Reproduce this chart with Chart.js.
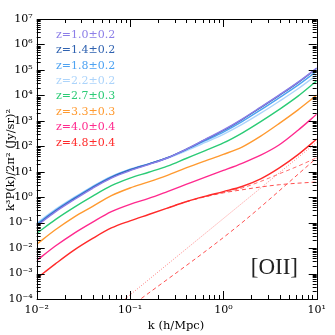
<!DOCTYPE html>
<html>
<head>
<meta charset="utf-8">
<script src="https://cdn.jsdelivr.net/npm/chart.js@4.4.1/dist/chart.umd.min.js"></script>
<style>
html,body{margin:0;padding:0;background:#fff;}
#wrap{width:335px;height:335px;}
</style>
</head>
<body>
<div id="wrap"><canvas id="c" width="335" height="335"></canvas></div>
<script>
// sampling wavenumbers k (h/Mpc)
const kGrid = [0.01, 0.01585, 0.02512, 0.03981, 0.0631, 0.1, 0.1585, 0.2512, 0.3981, 0.631, 1, 1.585, 2.512, 3.981, 6.31, 10];

// log10 of k^3 P(k) / 2pi^2  [(Jy/sr)^2]
const logP_z10 = [-1.13, -0.58, -0.10, 0.35, 0.75, 1.04, 1.28, 1.54, 1.88, 2.26, 2.64, 3.07, 3.54, 4.02, 4.52, 5.07];
const logP_z14 = [-1.10, -0.55, -0.07, 0.38, 0.78, 1.07, 1.30, 1.55, 1.88, 2.25, 2.62, 3.05, 3.52, 4.00, 4.50, 5.06];
const logP_z18 = [-1.06, -0.52, -0.04, 0.41, 0.80, 1.09, 1.31, 1.55, 1.86, 2.21, 2.56, 2.97, 3.43, 3.91, 4.40, 4.95];
const logP_z22 = [-1.02, -0.48, -0.01, 0.43, 0.82, 1.10, 1.31, 1.53, 1.82, 2.14, 2.47, 2.86, 3.30, 3.77, 4.26, 4.80];
const logP_z27 = [-1.42, -0.88, -0.40, 0.04, 0.45, 0.75, 0.98, 1.22, 1.52, 1.82, 2.13, 2.52, 2.97, 3.45, 3.97, 4.57];
const logP_z33 = [-1.85, -1.28, -0.78, -0.36, 0.06, 0.36, 0.60, 0.86, 1.15, 1.42, 1.68, 1.97, 2.40, 2.90, 3.43, 4.01];
const logP_z40 = [-2.49, -1.92, -1.42, -0.98, -0.57, -0.28, -0.05, 0.22, 0.50, 0.78, 1.05, 1.33, 1.65, 2.06, 2.63, 3.26];
const logP_z48 = [-3.19, -2.62, -2.08, -1.62, -1.21, -0.93, -0.68, -0.43, -0.18, 0.03, 0.22, 0.42, 0.72, 1.15, 1.67, 2.28];

// z = 4.8 components
const shotK = [0.08, 10];
const shotLog = [-4.13, 2.16];
const oneHaloK = [0.1, 1.39, 10];
const oneHaloLog = [-4.31, -1.17, 1.54];
const twoHaloK = [0.2512, 0.3981, 0.631, 1, 1.585, 2.512, 3.981, 6.31, 10];
const twoHaloLog = [-0.43, -0.18, 0.01, 0.17, 0.29, 0.40, 0.49, 0.55, 0.595];
const noShotK = [0.3981, 0.631, 1, 1.585, 2.512, 3.981, 6.31, 10];
const noShotLog = [-0.18, 0.02, 0.19, 0.36, 0.62, 0.92, 1.22, 1.55];

const labels = ['z=1.0\u00b10.2','z=1.4\u00b10.2','z=1.8\u00b10.2','z=2.2\u00b10.2','z=2.7\u00b10.3','z=3.3\u00b10.3','z=4.0\u00b10.4','z=4.8\u00b10.4'];
const colors = ['#8c7ee8','#2f62b0','#4ea3f2','#acd4fb','#2bcb76','#ff9a30','#ff2a8e','#ff2a2a'];
const series = [logP_z10, logP_z14, logP_z18, logP_z22, logP_z27, logP_z33, logP_z40, logP_z48];

const xTicks = [0.01, 0.1, 1, 10];
const yTicks = [1e-4,1e-3,1e-2,1e-1,1,1e1,1e2,1e3,1e4,1e5,1e6,1e7];

const sup = {'-':'\u207b','0':'\u2070','1':'\u00b9','2':'\u00b2','3':'\u00b3','4':'\u2074','5':'\u2075','6':'\u2076','7':'\u2077','8':'\u2078','9':'\u2079'};
function fmtPow(v){ const e = Math.round(Math.log10(v)); return '10' + String(e).split('').map(c=>sup[c]).join(''); }

function pts(ks, logs){ return ks.map((k,i)=>({x:k, y:Math.pow(10, logs[i])})); }

const datasets = [];
series.forEach((s,i)=>{
  datasets.push({label:labels[i], data:pts(kGrid,s), borderColor:colors[i], borderWidth:1.4, pointRadius:0, cubicInterpolationMode:'monotone', fill:false});
});
datasets.push({label:'shot', data:pts(shotK,shotLog), borderColor:'#ff7f7f', borderWidth:1, borderDash:[1,1.6], pointRadius:0, fill:false});
datasets.push({label:'1h', data:pts(oneHaloK,oneHaloLog), borderColor:'#ff5050', borderWidth:1, borderDash:[4,3], pointRadius:0, cubicInterpolationMode:'monotone', fill:false});
datasets.push({label:'2h', data:pts(twoHaloK,twoHaloLog), borderColor:'#ff5050', borderWidth:1, borderDash:[4,3], pointRadius:0, cubicInterpolationMode:'monotone', fill:false});
datasets.push({label:'2h+1h', data:pts(noShotK,noShotLog), borderColor:'#ff7070', borderWidth:1, borderDash:[4,3], pointRadius:0, cubicInterpolationMode:'monotone', fill:false});

const SERIF = '"DejaVu Serif", serif';

const decor = {
  id:'decor',
  afterDatasetsDraw(chart){
    const {ctx, chartArea:a, scales:{x,y}} = chart;
    ctx.save();
    ctx.strokeStyle = '#000'; ctx.lineWidth = 1;
    ctx.strokeRect(Math.round(a.left)+0.5, Math.round(a.top)+0.5, Math.round(a.right-a.left), Math.round(a.bottom-a.top));
    ctx.beginPath();
    for (let e=-2; e<=1; e++){
      for (let m=1; m<=9; m++){
        const v = m*Math.pow(10,e);
        if (v > 10.0001) continue;
        const px = Math.round(x.getPixelForValue(v))+0.5;
        const L = m===1 ? 8 : 4;
        ctx.moveTo(px, a.bottom); ctx.lineTo(px, a.bottom-L);
        ctx.moveTo(px, a.top); ctx.lineTo(px, a.top+L);
      }
    }
    for (let e=-4; e<=7; e++){
      for (let m=1; m<=9; m++){
        const v = m*Math.pow(10,e);
        if (v > 1e7*1.0001) continue;
        const py = Math.round(y.getPixelForValue(v))+0.5;
        const L = m===1 ? 8 : 4;
        ctx.moveTo(a.left, py); ctx.lineTo(a.left+L, py);
        ctx.moveTo(a.right, py); ctx.lineTo(a.right-L, py);
      }
    }
    ctx.stroke();

    // legend text
    ctx.font = '11px ' + SERIF;
    ctx.textBaseline = 'middle';
    ctx.textAlign = 'left';
    labels.forEach((t,i)=>{
      ctx.fillStyle = colors[i];
      ctx.fillText(t, 56, 35 + i*15.4);
    });

    // [OII] label
    ctx.fillStyle = '#222';
    ctx.font = '23px "Liberation Serif", serif';
    ctx.textAlign = 'right';
    ctx.fillText('[OII]', 298, 268);

    // axis titles
    ctx.fillStyle = '#000';
    ctx.font = '11.5px ' + SERIF;
    ctx.textAlign = 'center';
    ctx.fillText('k (h/Mpc)', 176, 326);
    ctx.translate(11, 160);
    ctx.rotate(-Math.PI/2);
    ctx.fillText('k\u00b3P(k)/2\u03c0\u00b2 (Jy/sr)\u00b2', 0, 0);
    ctx.restore();
  }
};

new Chart(document.getElementById('c'), {
  type:'line',
  data:{datasets},
  options:{
    responsive:false,
    devicePixelRatio:1,
    animation:false,
    events:[],
    layout:{padding:{top:19, right:18.3, left:0, bottom:0}},
    plugins:{legend:{display:false}, tooltip:{enabled:false}},
    scales:{
      x:{
        type:'logarithmic', min:0.01, max:10, position:'bottom',
        grid:{display:false, drawTicks:false},
        border:{display:false},
        afterBuildTicks(s){ s.ticks = xTicks.map(v=>({value:v, major:true})); },
        afterFit(s){ s.height = 36; },
        ticks:{color:'#000', font:{family:SERIF, size:11}, padding:5, autoSkip:false, maxRotation:0, callback:(v)=>fmtPow(v)}
      },
      y:{
        type:'logarithmic', min:1e-4, max:1e7, position:'left',
        grid:{display:false, drawTicks:false},
        border:{display:false},
        afterBuildTicks(s){ s.ticks = yTicks.map(v=>({value:v, major:true})); },
        afterFit(s){ s.width = 36.7; },
        ticks:{color:'#000', font:{family:SERIF, size:11}, padding:4, autoSkip:false, callback:(v)=>fmtPow(v)}
      }
    }
  },
  plugins:[decor]
});
</script>
</body>
</html>
